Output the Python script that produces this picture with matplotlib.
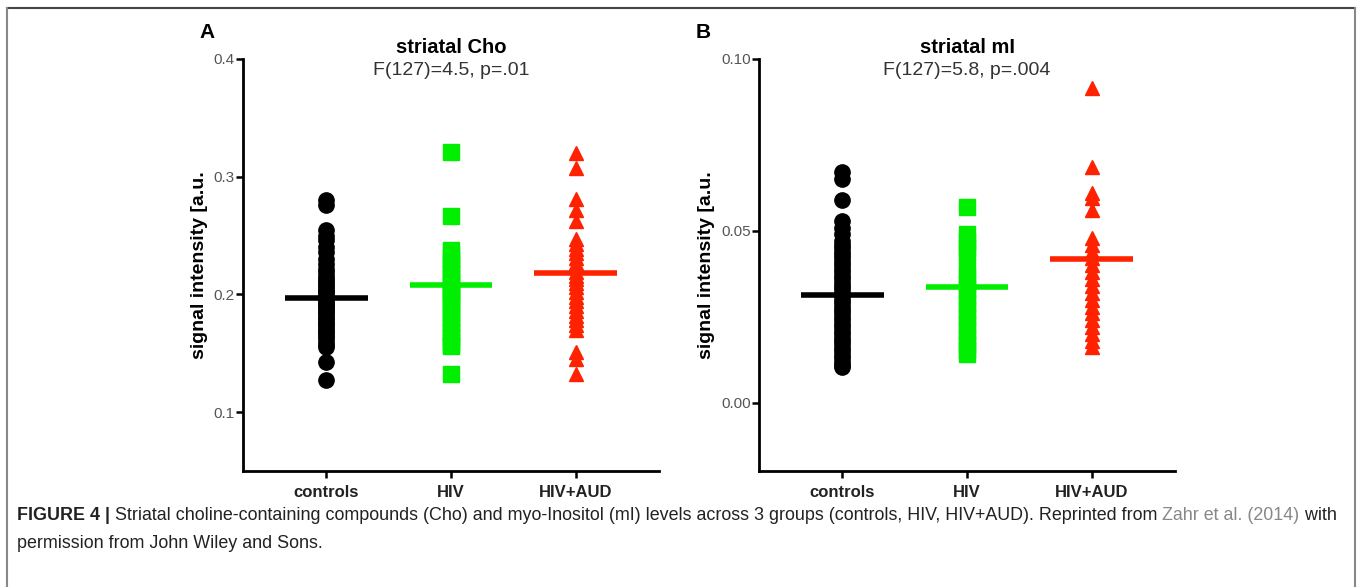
import matplotlib.pyplot as plt
from matplotlib.lines import Line2D

plt.rcParams['font.family'] = ['Liberation Sans', 'DejaVu Sans']

groups = ['controls', 'HIV', 'HIV+AUD']

# striatal Cho values per group
cho_controls = [0.280, 0.276, 0.255, 0.250, 0.246, 0.240, 0.236, 0.230, 0.226, 0.222,
                0.219, 0.216, 0.213, 0.211, 0.209, 0.207, 0.205, 0.203, 0.201, 0.199,
                0.198, 0.196, 0.195, 0.193, 0.192, 0.190, 0.189, 0.187, 0.185, 0.183,
                0.181, 0.179, 0.177, 0.175, 0.173, 0.171, 0.169, 0.167, 0.165, 0.163,
                0.160, 0.157, 0.155, 0.143, 0.127]
cho_hiv = [0.321, 0.267, 0.238, 0.234, 0.230, 0.226, 0.222, 0.218, 0.214, 0.210,
           0.207, 0.204, 0.201, 0.198, 0.195, 0.192, 0.188, 0.184, 0.180, 0.176,
           0.172, 0.168, 0.164, 0.160, 0.157, 0.156, 0.132]
cho_aud = [0.320, 0.307, 0.281, 0.272, 0.262, 0.247, 0.243, 0.239, 0.235, 0.231,
           0.227, 0.223, 0.219, 0.216, 0.213, 0.210, 0.206, 0.202, 0.198, 0.194,
           0.190, 0.186, 0.182, 0.178, 0.174, 0.170, 0.151, 0.145, 0.132]
cho_means = [0.1966, 0.208, 0.2178]

# striatal mI values per group
mi_controls = [0.067, 0.065, 0.059, 0.053, 0.051, 0.049, 0.047, 0.046, 0.045, 0.044,
               0.043, 0.042, 0.041, 0.040, 0.039, 0.038, 0.037, 0.036, 0.035, 0.034,
               0.033, 0.032, 0.031, 0.030, 0.029, 0.028, 0.027, 0.026, 0.025, 0.024,
               0.023, 0.022, 0.021, 0.020, 0.019, 0.018, 0.017, 0.016, 0.015, 0.014,
               0.013, 0.012, 0.011, 0.0105]
mi_hiv = [0.057, 0.049, 0.047, 0.045, 0.044, 0.0394, 0.037, 0.035, 0.033, 0.031,
          0.029, 0.027, 0.025, 0.023, 0.021, 0.019, 0.017, 0.0155, 0.0143]
mi_aud = [0.0916, 0.0687, 0.061, 0.0596, 0.056, 0.048, 0.046, 0.044, 0.042, 0.040,
          0.038, 0.036, 0.034, 0.032, 0.030, 0.028, 0.026, 0.024, 0.022, 0.020,
          0.018, 0.0164]
mi_means = [0.0314, 0.0336, 0.0418]

colors = ['black', '#00ee00', '#ff2200']
markers = ['o', 's', '^']
msizes = [11, 11, 10.5]

W, H = 1357, 587
fig = plt.figure(figsize=(W / 100, H / 100), dpi=100)


def panel(left, data, means, ylim, yticks, yfmt, title, stats, letter, letter_x):
    ax = fig.add_axes([left / W, 1 - 471 / H, 416 / W, 412 / H])
    for i, vals in enumerate(data):
        ax.plot([i] * len(vals), vals, linestyle='none', marker=markers[i],
                ms=msizes[i], color=colors[i], mec=colors[i])
        ax.plot([i - 0.33, i + 0.33], [means[i]] * 2, color=colors[i], lw=4,
                solid_capstyle='butt')
    ax.set_xlim(-0.67, 2.67)
    ax.set_ylim(*ylim)
    ax.set_yticks(yticks)
    ax.set_yticklabels([yfmt.format(t) for t in yticks])
    ax.set_xticks(range(3))
    ax.set_xticklabels(groups, fontweight='bold', fontsize=12, color='#222222')
    for s in ['top', 'right']:
        ax.spines[s].set_visible(False)
    for s in ['left', 'bottom']:
        ax.spines[s].set_linewidth(2)
    ax.tick_params(axis='both', direction='out', length=5, width=1.8)
    ax.tick_params(axis='y', labelsize=11, labelcolor='#555555', pad=1)
    ax.tick_params(axis='x', pad=5)
    ax.set_ylabel('signal intensity [a.u.', fontweight='bold', fontsize=14, labelpad=4)
    ax.text(0.5, 1.027, title, transform=ax.transAxes, ha='center', va='center',
            fontweight='bold', fontsize=14.5)
    ax.text(0.5, 0.973, stats, transform=ax.transAxes, ha='center', va='center',
            fontsize=14, color='#333333')
    fig.text(letter_x / W, 1 - 33 / H, letter, fontweight='bold', fontsize=15,
             ha='center', va='center')
    return ax


panel(243, [cho_controls, cho_hiv, cho_aud], cho_means, (0.05, 0.4),
      [0.1, 0.2, 0.3, 0.4], '{:.1f}', 'striatal Cho', 'F(127)=4.5, p=.01', 'A', 207)
panel(759, [mi_controls, mi_hiv, mi_aud], mi_means, (-0.0198, 0.1),
      [0.0, 0.05, 0.10], '{:.2f}', 'striatal mI', 'F(127)=5.8, p=.004', 'B', 703)

# frame around the figure
fig.add_artist(Line2D([7 / W, 1355 / W], [1 - 8 / H] * 2, color='#444444', lw=1.5))
fig.add_artist(Line2D([7 / W] * 2, [0, 1 - 8 / H], color='#888888', lw=1.5))
fig.add_artist(Line2D([1355 / W] * 2, [0, 1 - 8 / H], color='#888888', lw=1.5))

# caption
cap_fs = 12.9
cap_y1, cap_y2 = 1 - 516 / H, 1 - 544 / H
t0 = fig.text(17 / W, cap_y1, 'FIGURE 4 |', fontweight='bold', fontsize=cap_fs,
              color='#222222', va='center')
t1 = fig.text(0, 0, ' Striatal choline-containing compounds (Cho) and myo-Inositol (mI) '
              'levels across 3 groups (controls, HIV, HIV+AUD). Reprinted from ',
              fontsize=cap_fs, color='#222222', va='center')
t2 = fig.text(0, 0, 'Zahr et al. (2014)', fontsize=cap_fs, color='#888888', va='center')
t3 = fig.text(0, 0, ' with', fontsize=cap_fs, color='#222222', va='center')
fig.text(17 / W, cap_y2, 'permission from John Wiley and Sons.', fontsize=cap_fs,
         color='#222222', va='center')

r = fig.canvas.get_renderer()
prev = t0
for t in [t1, t2, t3]:
    bb = prev.get_window_extent(r)
    t.set_position((bb.x1 / W, cap_y1))
    prev = t

fig.savefig('out.png', dpi=100)
